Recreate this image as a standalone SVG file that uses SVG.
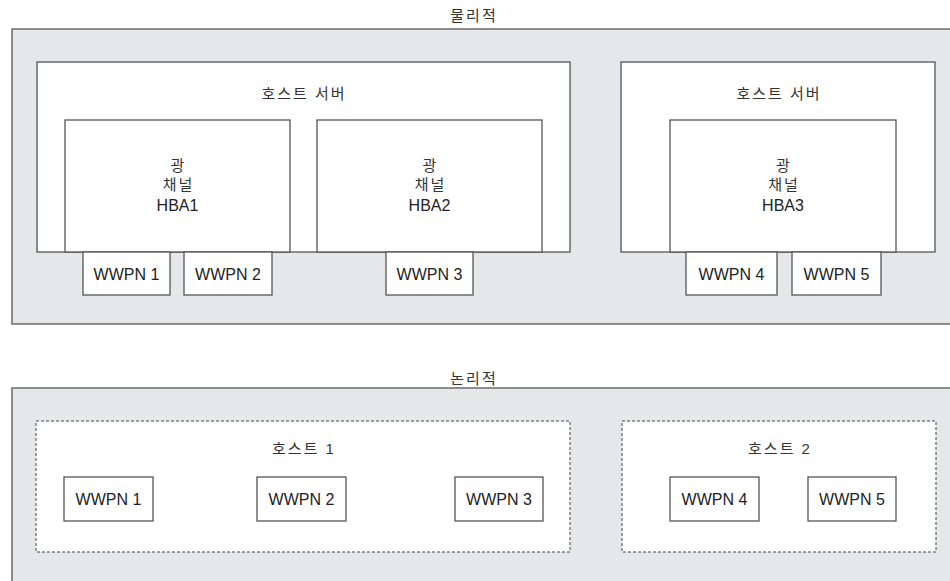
<svg xmlns="http://www.w3.org/2000/svg" width="950" height="581" viewBox="0 0 950 581">
<style>
.panel{fill:#e6e7e8;stroke:#555;stroke-width:1.3}
.box{fill:#fff;stroke:#555;stroke-width:1.3}
.dash{fill:#fff;stroke:#444;stroke-width:1;stroke-dasharray:3,2}
text{font-family:"Liberation Sans","Noto Sans CJK KR",sans-serif;font-size:16px;fill:#222;text-anchor:middle}
.ko{font-size:15px;fill:#333;letter-spacing:2px}
</style>
<rect width="950" height="581" fill="#fff"/>
<g id="physical">
<text class="ko" x="474" y="21">물리적</text>
<rect class="panel" x="12" y="29" width="950" height="295"/>
</g>
<g id="host-server-1">
<rect class="box" x="37" y="62" width="533" height="190"/>
<text class="ko" x="304" y="99">호스트 서버</text>
</g>
<g id="hba1">
<rect class="box" x="65" y="120" width="225" height="132"/>
<text class="ko" x="178.5" y="171">광</text>
<text class="ko" x="178.5" y="190">채널</text>
<text x="177.5" y="211">HBA1</text>
</g>
<g id="hba2">
<rect class="box" x="317" y="120" width="225" height="132"/>
<text class="ko" x="430.5" y="171">광</text>
<text class="ko" x="430.5" y="190">채널</text>
<text x="429.5" y="211">HBA2</text>
</g>
<g id="p-wwpn1"><rect class="box" x="83" y="252" width="87" height="43"/><text x="126.5" y="280">WWPN 1</text></g>
<g id="p-wwpn2"><rect class="box" x="184" y="252" width="88" height="43"/><text x="228" y="280">WWPN 2</text></g>
<g id="p-wwpn3"><rect class="box" x="386" y="252" width="87" height="43"/><text x="429.5" y="280">WWPN 3</text></g>
<g id="host-server-2">
<rect class="box" x="621" y="62" width="314" height="190"/>
<text class="ko" x="779" y="99">호스트 서버</text>
</g>
<g id="hba3">
<rect class="box" x="670" y="120" width="226" height="132"/>
<text class="ko" x="784" y="171">광</text>
<text class="ko" x="784" y="190">채널</text>
<text x="783" y="211">HBA3</text>
</g>
<g id="p-wwpn4"><rect class="box" x="686" y="252" width="91" height="43"/><text x="731.5" y="280">WWPN 4</text></g>
<g id="p-wwpn5"><rect class="box" x="792" y="252" width="89" height="43"/><text x="836.5" y="280">WWPN 5</text></g>
<g id="logical">
<text class="ko" x="474" y="384">논리적</text>
<rect class="panel" x="12" y="388" width="950" height="210"/>
</g>
<g id="host1">
<rect class="dash" x="36" y="421" width="534" height="131"/>
<text class="ko" x="304" y="454">호스트 1</text>
</g>
<g id="l-wwpn1"><rect class="box" x="64" y="477" width="89" height="44"/><text x="108.5" y="505">WWPN 1</text></g>
<g id="l-wwpn2"><rect class="box" x="257" y="477" width="89" height="44"/><text x="301.5" y="505">WWPN 2</text></g>
<g id="l-wwpn3"><rect class="box" x="455" y="477" width="88" height="44"/><text x="499" y="505">WWPN 3</text></g>
<g id="host2">
<rect class="dash" x="622" y="421" width="314" height="131"/>
<text class="ko" x="780" y="454">호스트 2</text>
</g>
<g id="l-wwpn4"><rect class="box" x="670" y="477" width="89" height="44"/><text x="714.5" y="505">WWPN 4</text></g>
<g id="l-wwpn5"><rect class="box" x="808" y="477" width="88" height="44"/><text x="852" y="505">WWPN 5</text></g>
<g id="connectors"></g>
</svg>
